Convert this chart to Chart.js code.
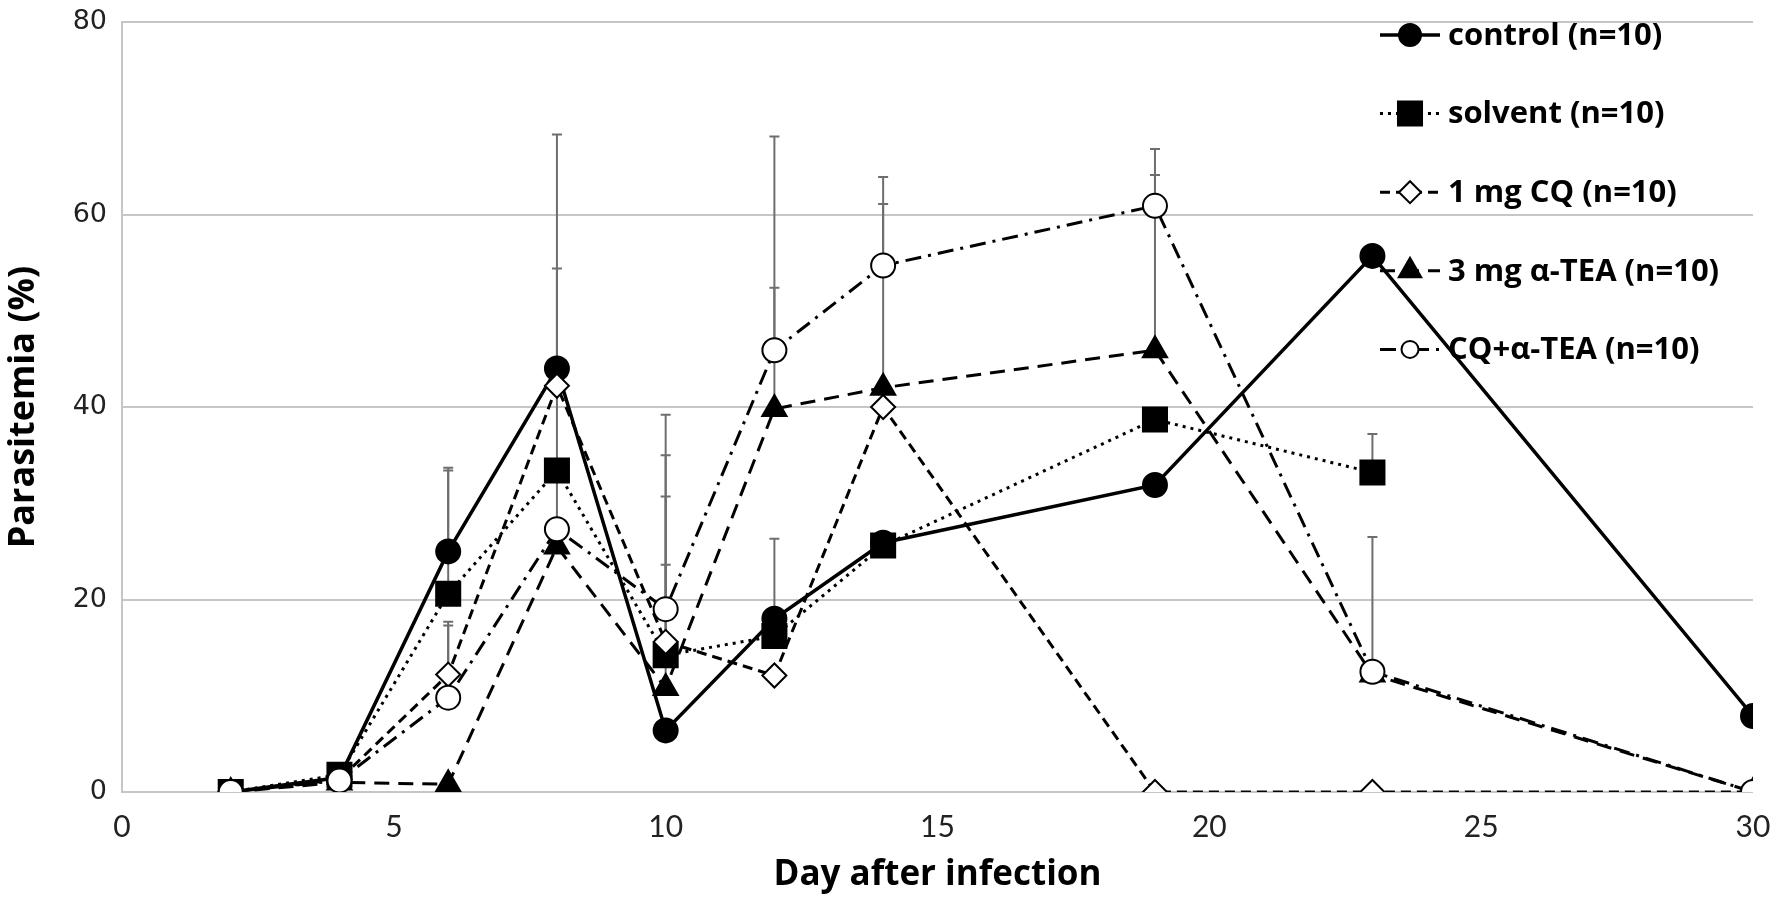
<!DOCTYPE html>
<html>
<head>
<meta charset="utf-8">
<script src="https://cdn.jsdelivr.net/npm/chart.js@4.4.1/dist/chart.umd.min.js"></script>
<style>
  html, body { margin: 0; padding: 0; background: #fff; }
  #wrap { width: 1773px; height: 903px; }
</style>
</head>
<body>
<div id="wrap"><canvas id="myChart" width="1773" height="903"></canvas></div>
<script>
// days sampled
const days = [2, 4, 6, 8, 10, 12, 14, 19, 23, 30];

// mean parasitemia (%) per group, null = no animals left
const control = [0, 1.5, 25.0, 44.0, 6.4, 18.0, 25.9, 31.9, 55.7, 7.9];
const solvent = [0, 1.8, 20.6, 33.4, 14.2, 16.2, 25.6, 38.7, 33.2, null];
const cq1 = [0, 1.3, 12.2, 42.2, 15.6, 12.1, 40.0, 0, 0, 0];
const tea3 = [0, 1.0, 0.8, 25.5, 10.8, 39.8, 42.0, 45.9, 12.2, 0];
const cqTea = [0, 1.2, 9.8, 27.3, 19.0, 45.9, 54.7, 60.9, 12.5, 0];

// upper end of the error bars (mean + SD), null = no bar
const controlErr = [null, null, 33.7, 68.3, null, 26.3, null, null, null, null];
const solventErr = [null, null, 33.4, null, 30.7, null, null, null, 37.2, null];
const cq1Err = [null, null, 17.7, null, 35.0, null, null, null, null, null];
const tea3Err = [null, null, null, null, 23.6, 68.1, 61.1, 64.1, null, null];
const cqTeaErr = [null, null, 17.3, 54.4, 39.2, 52.4, 63.9, 66.8, 26.5, null];

const labels = ['control (n=10)', 'solvent (n=10)', '1 mg CQ (n=10)', '3 mg \u03b1-TEA (n=10)', 'CQ+\u03b1-TEA (n=10)'];

const xTicks = [0, 5, 10, 15, 20, 25, 30];
const yTicks = [0, 20, 40, 60, 80];

function pts(vals) {
  const out = [];
  days.forEach((d, i) => { if (vals[i] !== null) out.push({ x: d, y: vals[i] }); });
  return out;
}

function series(label, vals, errs, dash, style, radius, fill, legR, order) {
  return {
    label: label,
    data: pts(vals),
    errs: errs,
    vals: vals,
    legR: legR,
    order: order,
    borderColor: '#000',
    borderWidth: dash.length ? 3 : 3.5,
    borderDash: dash,
    pointStyle: style,
    pointRadius: radius,
    pointHoverRadius: radius,
    pointBackgroundColor: fill,
    pointBorderColor: '#000',
    pointBorderWidth: 2,
    tension: 0,
    fill: false
  };
}

// gray error bars, drawn under the lines
const errorBars = {
  id: 'errorBars',
  beforeDatasetsDraw(chart) {
    const ctx = chart.ctx;
    const xs = chart.scales.x, ys = chart.scales.y;
    ctx.save();
    ctx.strokeStyle = '#6e6e6e';
    ctx.lineWidth = 2;
    chart.data.datasets.forEach(ds => {
      ds.errs.forEach((e, i) => {
        if (e === null || ds.vals[i] === null) return;
        const px = xs.getPixelForValue(days[i]);
        const y0 = ys.getPixelForValue(ds.vals[i]);
        const y1 = ys.getPixelForValue(e);
        ctx.beginPath();
        ctx.moveTo(px, y0); ctx.lineTo(px, y1);
        ctx.moveTo(px - 5, y1); ctx.lineTo(px + 5, y1);
        ctx.stroke();
      });
    });
    ctx.restore();
  }
};

// legend inside the plot, top right, under the data lines
const legendBox = {
  id: 'legendBox',
  beforeDatasetsDraw(chart) {
    const ctx = chart.ctx;
    const area = chart.chartArea;
    const x0 = area.right - 373;
    const list = chart.data.datasets.slice().sort((a, b) => b.order - a.order);
    list.forEach((ds, i) => {
      const y = area.top + 13 + i * 78.6;
      ctx.save();
      ctx.strokeStyle = '#000';
      ctx.lineWidth = ds.borderWidth;
      ctx.setLineDash(ds.borderDash);
      ctx.beginPath();
      ctx.moveTo(x0, y); ctx.lineTo(x0 + 60, y);
      ctx.stroke();
      ctx.setLineDash([]);
      ctx.fillStyle = ds.pointBackgroundColor;
      ctx.lineWidth = 2;
      Chart.helpers.drawPoint(ctx, { pointStyle: ds.pointStyle, radius: ds.legR, rotation: 0, borderWidth: 2 }, x0 + 30, y);
      ctx.fillStyle = '#000';
      ctx.font = 'bold 31px "Open Sans"';
      ctx.textBaseline = 'middle';
      ctx.fillText(ds.label, x0 + 68, y + 1);
      ctx.restore();
    });
  }
};

const ctx = document.getElementById('myChart');

new Chart(ctx, {
  type: 'line',
  data: {
    datasets: [
      series(labels[0], control, controlErr, [], 'circle', 12, '#000', 11, 5),
      series(labels[1], solvent, solventErr, [3, 5], 'rect', 17, '#000', 17, 4),
      series(labels[2], cq1, cq1Err, [10, 6], 'rectRot', 12, '#fff', 11, 3),
      series(labels[3], tea3, tea3Err, [15, 9], 'triangle', 14, '#000', 13, 2),
      series(labels[4], cqTea, cqTeaErr, [16, 7, 3, 7], 'circle', 12, '#fff', 8.5, 1)
    ]
  },
  options: {
    responsive: false,
    devicePixelRatio: 1,
    animation: false,
    events: [],
    layout: { padding: { top: 22, right: 20, bottom: 0, left: 0 } },
    plugins: {
      legend: { display: false },
      tooltip: { enabled: false }
    },
    scales: {
      x: {
        type: 'linear',
        min: 0,
        max: 30,
        afterBuildTicks: s => { s.ticks = xTicks.map(v => ({ value: v })); },
        afterFit: s => { s.height = 111; s.paddingLeft = 0; s.paddingRight = 0; },
        grid: { display: false, drawTicks: false },
        border: { display: false },
        ticks: { padding: 17, color: '#222', font: { family: 'Lato', size: 30 } },
        title: {
          display: true,
          text: 'Day after infection',
          color: '#000',
          font: { family: 'Open Sans', size: 35, weight: 'bold' },
          padding: { top: 0, bottom: 7 }
        }
      },
      y: {
        min: 0,
        max: 80,
        afterBuildTicks: s => { s.ticks = yTicks.map(v => ({ value: v })); },
        afterFit: s => { s.width = 122; s.paddingTop = 0; s.paddingBottom = 0; },
        grid: { color: '#c6c6c6', lineWidth: 2, drawTicks: false },
        border: { display: true, color: '#c6c6c6', width: 2 },
        ticks: { padding: 15, color: '#222', font: { family: 'DejaVu Sans', size: 27 } },
        title: {
          display: true,
          text: 'Parasitemia (%)',
          color: '#000',
          font: { family: 'Open Sans', size: 36, weight: 'bold' },
          padding: { top: 2, bottom: 0 }
        }
      }
    }
  },
  plugins: [errorBars, legendBox]
});
</script>
</body>
</html>
